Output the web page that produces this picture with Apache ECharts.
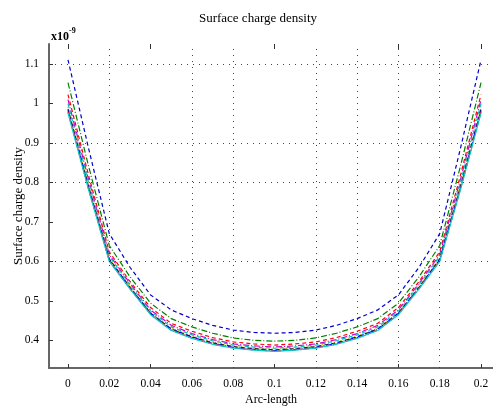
<!DOCTYPE html>
<html>
<head>
<meta charset="utf-8">
<script src="https://cdn.jsdelivr.net/npm/echarts@6/dist/echarts.min.js"></script>
<style>html,body{margin:0;padding:0;background:#fff}#c{width:493px;height:407px}</style>
</head>
<body>
<div id="c"></div>
<script>
var xValues = [0,0.01,0.02,0.03,0.04,0.05,0.06,0.07,0.08,0.09,0.1,0.11,0.12,0.13,0.14,0.15,0.16,0.17,0.18,0.19,0.2];
var xTickLabels = [0,0.02,0.04,0.06,0.08,0.1,0.12,0.14,0.16,0.18,0.2];
var xTickMarks = [0,0.04,0.1,0.16,0.2];
var yTickLabels = [0.4,0.5,0.6,0.7,0.8,0.9,1,1.1];
var xGrid = [0.02,0.06,0.08,0.12,0.14,0.16,0.18];
var yGrid = [0.6,0.8,0.9,1.1];

var s1 = [1.110,0.885,0.670,0.585,0.515,0.477,0.455,0.438,0.426,0.420,0.418,0.420,0.426,0.438,0.455,0.477,0.515,0.585,0.670,0.885,1.110];
var s2 = [1.052,0.840,0.640,0.561,0.494,0.455,0.434,0.418,0.406,0.400,0.398,0.400,0.406,0.418,0.434,0.455,0.494,0.561,0.640,0.840,1.052];
var s3 = [1.022,0.817,0.624,0.549,0.483,0.443,0.423,0.407,0.396,0.391,0.388,0.391,0.396,0.407,0.423,0.443,0.483,0.549,0.624,0.817,1.022];
var s4 = [1.009,0.806,0.617,0.544,0.477,0.438,0.417,0.402,0.391,0.386,0.383,0.386,0.391,0.402,0.417,0.438,0.477,0.544,0.617,0.806,1.009];
var s5 = [0.999,0.799,0.613,0.540,0.474,0.434,0.414,0.399,0.388,0.383,0.380,0.383,0.388,0.399,0.414,0.434,0.474,0.540,0.613,0.799,0.999];
var s6 = [0.991,0.793,0.608,0.537,0.471,0.431,0.411,0.396,0.386,0.380,0.378,0.380,0.386,0.396,0.411,0.431,0.471,0.537,0.608,0.793,0.991];
var s7 = [0.986,0.788,0.606,0.534,0.469,0.429,0.409,0.394,0.384,0.379,0.376,0.379,0.384,0.394,0.409,0.429,0.469,0.534,0.606,0.788,0.986];
var s8 = [0.982,0.785,0.604,0.533,0.468,0.428,0.408,0.392,0.382,0.377,0.374,0.377,0.382,0.392,0.408,0.428,0.468,0.533,0.604,0.785,0.982];
var s9 = [0.978,0.782,0.601,0.531,0.466,0.426,0.406,0.391,0.381,0.376,0.373,0.376,0.381,0.391,0.406,0.426,0.466,0.531,0.601,0.782,0.978];
var s10 = [0.975,0.780,0.600,0.530,0.465,0.425,0.405,0.390,0.380,0.375,0.372,0.375,0.380,0.390,0.405,0.425,0.465,0.530,0.600,0.780,0.975];

var seriesValues = [s1,s2,s3,s4,s5,s6,s7,s8,s9,s10];
var seriesColors = ['#0000cc','#008000','#ff0000','#cc00cc','#00bfbf','#bfbf00','#222222','#0000ff','#ff2020','#00cccc'];
var seriesDash = [[4,3],[6,2,1,2],[4,3],[6,2,1,2],[4,3],[1,2],[4,3],[6,2,1,2],[4,3],'solid'];

var font = 'Liberation Serif, Times New Roman, serif';
var series = seriesValues.map(function(vals, i){
  return {
    type:'line', showSymbol:false, symbol:'none', silent:true, z:3,
    data: xValues.map(function(x,j){return [x, vals[j]];}),
    lineStyle:{color:seriesColors[i], width:1.2, type:seriesDash[i]}
  };
});
series.unshift({
  type:'line', data:[], silent:true, z:1,
  markLine:{
    silent:true, symbol:'none', label:{show:false},
    lineStyle:{color:'#444', width:1, type:[1,5]},
    data: xGrid.map(function(v){return {xAxis:v};}).concat(yGrid.map(function(v){return {yAxis:v};}))
  }
});

var chart = echarts.init(document.getElementById('c'), null, {renderer:'canvas'});
chart.setOption({
  animation:false,
  backgroundColor:'#fff',
  title:{text:'Surface charge density', left:253, top:7, textAlign:'center',
    textStyle:{fontFamily:font, fontSize:13, fontWeight:'normal', color:'#000'}},
  grid:{left:49, right:0, top:44, bottom:39, containLabel:false, outerBoundsMode:'none'},
  xAxis:[{
    type:'value', min:-0.0092, max:0.2058,
    name:'Arc-length', nameLocation:'middle', nameGap:26, nameMoveOverlap:false,
    nameTextStyle:{fontFamily:font, fontSize:12, color:'#000'},
    axisLine:{show:true, onZero:false, lineStyle:{color:'#666', width:2}},
    axisTick:{show:true, inside:true, length:4, customValues:xTickMarks, lineStyle:{color:'#333'}},
    axisLabel:{customValues:xTickLabels, fontFamily:font, fontSize:11.5, color:'#000', margin:10,
      formatter:function(v){return String(+v.toFixed(2));}},
    splitLine:{show:false}
  },{
    type:'value', position:'top', min:-0.0092, max:0.2058,
    axisLine:{show:false},
    axisTick:{show:true, inside:true, length:5, customValues:xTickMarks, lineStyle:{color:'#333'}},
    axisLabel:{show:false}, splitLine:{show:false}
  }],
  yAxis:{
    type:'value', min:0.33, max:1.15,
    name:'Surface charge density', nameLocation:'middle', nameGap:24, nameMoveOverlap:false,
    nameTextStyle:{fontFamily:font, fontSize:13, color:'#000'},
    axisLine:{show:true, onZero:false, lineStyle:{color:'#666', width:2}},
    axisTick:{show:true, inside:true, length:4, customValues:yTickLabels, lineStyle:{color:'#333'}},
    axisLabel:{customValues:yTickLabels, fontFamily:font, fontSize:11.5, color:'#000', margin:10,
      formatter:function(v){return String(+v.toFixed(2));}},
    splitLine:{show:false}
  },
  graphic:[{
    type:'text', left:51, top:27,
    style:{
      text:'{a|x10}{b|-9}',
      rich:{
        a:{fontFamily:font, fontSize:12, fontWeight:'bold', color:'#000', verticalAlign:'bottom'},
        b:{fontFamily:font, fontSize:8, fontWeight:'bold', color:'#000', verticalAlign:'top', padding:[0,0,8,0]}
      }
    }
  }],
  series:series
});
</script>
</body>
</html>
